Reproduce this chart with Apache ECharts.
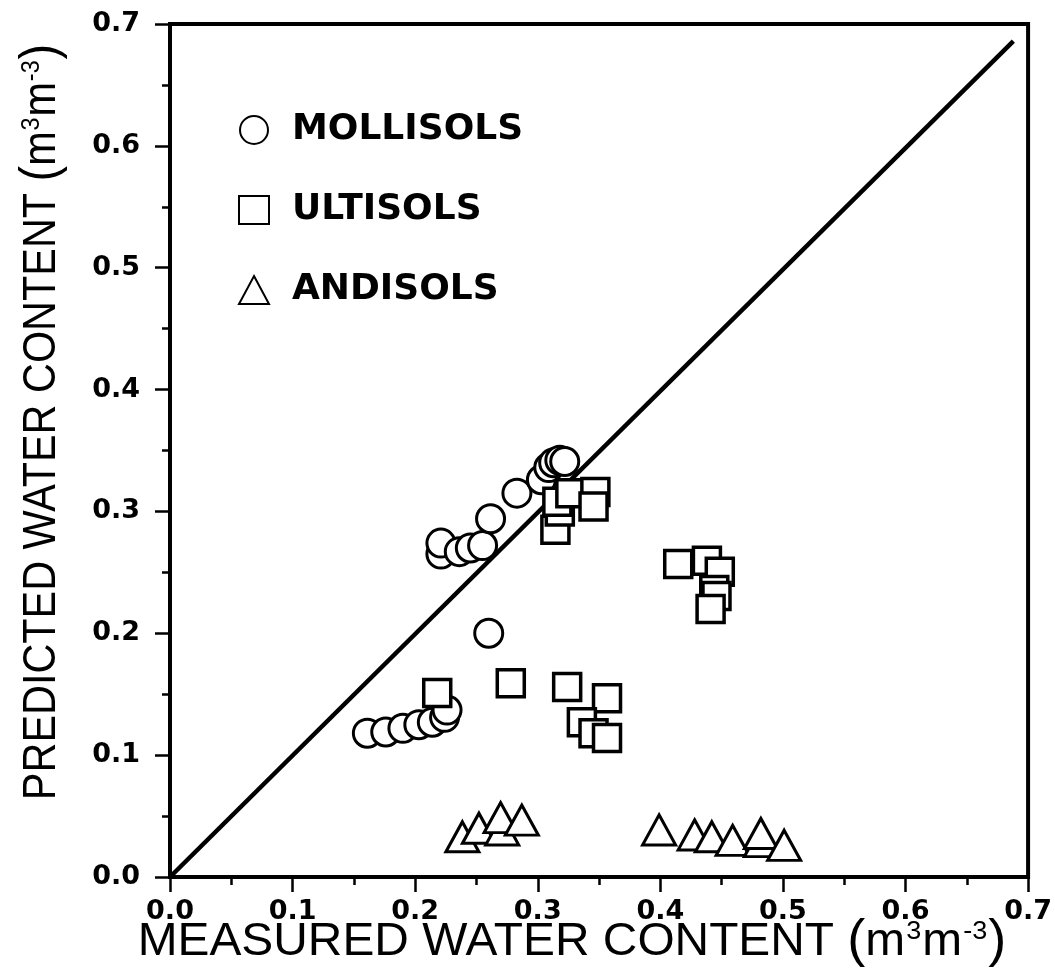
<!DOCTYPE html>
<html>
<head>
<meta charset="utf-8">
<script src="https://cdn.jsdelivr.net/npm/echarts@6/dist/echarts.min.js"></script>
<style>
  html, body { margin: 0; padding: 0; background: #fff; }
  #chart { width: 1055px; height: 979px; }
</style>
</head>
<body>
<div id="chart"></div>
<script>
// Measured vs predicted water content (m3 m-3), three soil orders
const xTicks = [0.0, 0.1, 0.2, 0.3, 0.4, 0.5, 0.6, 0.7];
const yTicks = [0.0, 0.1, 0.2, 0.3, 0.4, 0.5, 0.6, 0.7];

const mollisols = [
  [0.161, 0.118], [0.176, 0.119], [0.190, 0.122], [0.203, 0.125],
  [0.214, 0.127], [0.224, 0.131], [0.226, 0.137],
  [0.260, 0.200],
  [0.221, 0.265], [0.221, 0.274], [0.236, 0.267], [0.245, 0.270],
  [0.255, 0.272], [0.2615, 0.294], [0.283, 0.315], [0.303, 0.326],
  [0.309, 0.336], [0.313, 0.340], [0.318, 0.342], [0.322, 0.341]
];

const ultisols = [
  [0.3144, 0.285], [0.318, 0.300], [0.316, 0.308], [0.3266, 0.315],
  [0.347, 0.316], [0.3455, 0.304],
  [0.218, 0.151], [0.278, 0.159], [0.324, 0.156], [0.3565, 0.1466],
  [0.336, 0.127], [0.3455, 0.118], [0.3565, 0.114],
  [0.4146, 0.2568], [0.438, 0.2595], [0.4485, 0.2505], [0.444, 0.2355],
  [0.4458, 0.2305], [0.441, 0.220]
];

const andisols = [
  [0.2385, 0.033], [0.252, 0.040], [0.271, 0.0386], [0.2697, 0.0487],
  [0.287, 0.0467],
  [0.399, 0.0386], [0.428, 0.0345], [0.442, 0.033], [0.459, 0.030],
  [0.482, 0.029], [0.482, 0.0357], [0.501, 0.026]
];

// 1:1 reference line
const oneToOne = [[0.0, 0.0], [0.688, 0.686]];

const chart = echarts.init(document.getElementById('chart'));

const tickFont = {
  color: '#000', fontFamily: 'DejaVu Sans', fontWeight: 'bold', fontSize: 27
};
const hollow = { color: '#fff', borderColor: '#000', borderWidth: 3, opacity: 1 };

const titleRich = {
  a: { fontFamily: 'Liberation Sans', fontSize: 46, lineHeight: 54, color: '#000' },
  p: { fontFamily: 'Liberation Sans', fontSize: 52, lineHeight: 54, color: '#000' },
  s: { fontFamily: 'Liberation Sans', fontSize: 26, lineHeight: 26, verticalAlign: 'top', color: '#000', padding: [4, 1, 0, 1] }
};

chart.setOption({
  animation: false,
  backgroundColor: '#fff',
  grid: {
    left: 170, right: 24, top: 24, bottom: 102,
    show: true, borderColor: '#000', borderWidth: 4, backgroundColor: 'transparent'
  },
  legend: {
    orient: 'vertical',
    left: 233, top: 107,
    itemWidth: 30, itemHeight: 28,
    itemGap: 44,
    data: ['MOLLISOLS', 'ULTISOLS', 'ANDISOLS'],
    textStyle: { color: '#000', fontFamily: 'DejaVu Sans', fontWeight: 'bold', fontSize: 36, lineHeight: 34, padding: [0, 0, 0, 18] }
  },
  xAxis: {
    type: 'value', min: xTicks[0], max: xTicks[xTicks.length - 1], interval: 0.1,
    splitLine: { show: false },
    axisLine: { lineStyle: { color: '#000', width: 4 } },
    axisTick: { inside: false, length: 15, lineStyle: { color: '#000', width: 2.5 } },
    minorTick: { show: true, splitNumber: 2, length: 8, lineStyle: { color: '#000', width: 2.5 } },
    axisLabel: Object.assign({ margin: 21, formatter: v => v.toFixed(1) }, tickFont)
  },
  yAxis: {
    type: 'value', min: yTicks[0], max: yTicks[yTicks.length - 1], interval: 0.1,
    splitLine: { show: false },
    axisLine: { lineStyle: { color: '#000', width: 4 } },
    axisTick: { inside: false, length: 15, lineStyle: { color: '#000', width: 2.5 } },
    minorTick: { show: true, splitNumber: 2, length: 8, lineStyle: { color: '#000', width: 2.5 } },
    axisLabel: Object.assign({ margin: 30, formatter: v => v.toFixed(1) }, tickFont)
  },
  graphic: [
    {
      type: 'text', x: 572, y: 942, scaleX: 1.04, silent: true,
      style: {
        text: '{a|MEASURED WATER CONTENT }{p|(}{a|m}{s|3}{a|m}{s|-3}{p|)}',
        rich: titleRich, align: 'center', verticalAlign: 'middle'
      }
    },
    {
      type: 'text', x: 42, y: 422, rotation: Math.PI / 2, scaleX: 0.9, silent: true,
      style: {
        text: '{a|PREDICTED WATER CONTENT }{p|(}{a|m}{s|3}{a|m}{s|-3}{p|)}',
        rich: titleRich, align: 'center', verticalAlign: 'middle'
      }
    }
  ],
  series: [
    {
      name: '1:1', type: 'line', data: oneToOne, symbol: 'none', z: 1,
      lineStyle: { color: '#000', width: 4.5 }, silent: true
    },
    {
      name: 'MOLLISOLS', type: 'scatter', data: mollisols, symbol: 'circle',
      symbolSize: 28, itemStyle: hollow, z: 3
    },
    {
      name: 'ULTISOLS', type: 'scatter', data: ultisols, symbol: 'rect',
      symbolSize: 27, itemStyle: Object.assign({}, hollow, { borderWidth: 3.5 }), z: 3
    },
    {
      name: 'ANDISOLS', type: 'scatter', data: andisols, symbol: 'triangle',
      symbolSize: [33, 30], itemStyle: hollow, z: 3
    }
  ]
});
</script>
</body>
</html>
